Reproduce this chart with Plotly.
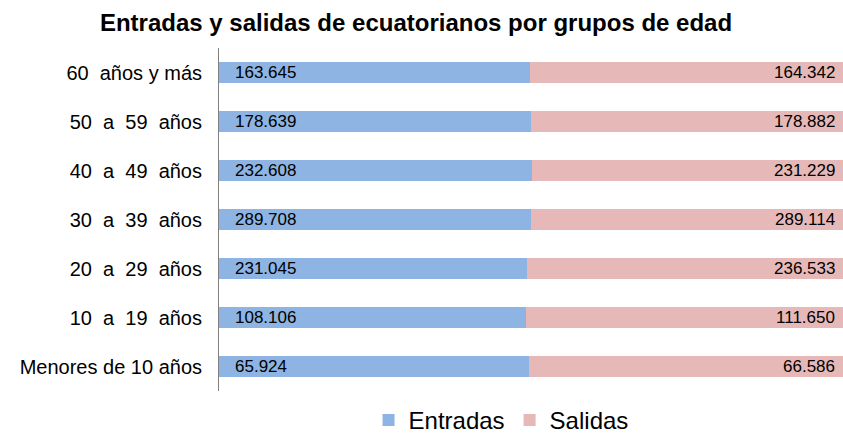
import plotly.graph_objects as go

categories = ["Menores de 10 años", "10  a  19  años", "20  a  29  años", "30  a  39  años",
              "40  a  49  años", "50  a  59  años", "60  años y más"]
entradas = [65924, 108106, 231045, 289708, 232608, 178639, 163645]
salidas = [66586, 111650, 236533, 289114, 231229, 178882, 164342]

BLUE = "#8DB4E2"
PINK = "#E6B9B8"

def fmt(v):
    return f"{v:,}".replace(",", ".")

fig = go.Figure()
fig.add_trace(go.Bar(y=categories, x=entradas, name="Entradas", orientation="h",
                     marker=dict(color=BLUE, line=dict(width=0)), hoverinfo="skip"))
fig.add_trace(go.Bar(y=categories, x=salidas, name="Salidas", orientation="h",
                     marker=dict(color=PINK, line=dict(width=0)), hoverinfo="skip"))

annotations = []
for c, e, s in zip(categories, entradas, salidas):
    annotations.append(dict(x=0, y=c, xref="x", yref="y", text=fmt(e), showarrow=False,
                            xanchor="left", xshift=14, font=dict(size=17, color="#000")))
    annotations.append(dict(x=100, y=c, xref="x", yref="y", text=fmt(s), showarrow=False,
                            xanchor="right", xshift=-6, font=dict(size=17, color="#000")))

fig.update_layout(
    width=843, height=433,
    barmode="stack", barnorm="percent", bargap=0.59,
    paper_bgcolor="white", plot_bgcolor="white",
    margin=dict(l=219, r=0, t=48, b=42, autoexpand=False),
    font=dict(family="Liberation Sans, Arial, sans-serif", color="#000"),
    title=dict(text="<b>Entradas y salidas de ecuatorianos por grupos de edad</b>",
               x=0.4935, xanchor="center", xref="container", y=0.947, yanchor="middle",
               font=dict(size=24, color="#000")),
    xaxis=dict(range=[0, 100], showgrid=False, showticklabels=False, zeroline=False,
               showline=False, fixedrange=True),
    yaxis=dict(showline=True, linecolor="#808080", linewidth=1, showgrid=False,
               ticks="", tickfont=dict(size=20, color="#000"), ticklabelstandoff=12,
               categoryorder="array", categoryarray=categories, fixedrange=True),
    legend=dict(orientation="h", x=0.452, xanchor="center", y=-0.02, yanchor="top",
                font=dict(size=24, color="#000"), traceorder="normal", itemwidth=30),
    annotations=annotations,
)

fig.write_html("out.html", config={"displayModeBar": False},
               post_script="document.body.style.margin='0';document.body.style.overflow='hidden';")
